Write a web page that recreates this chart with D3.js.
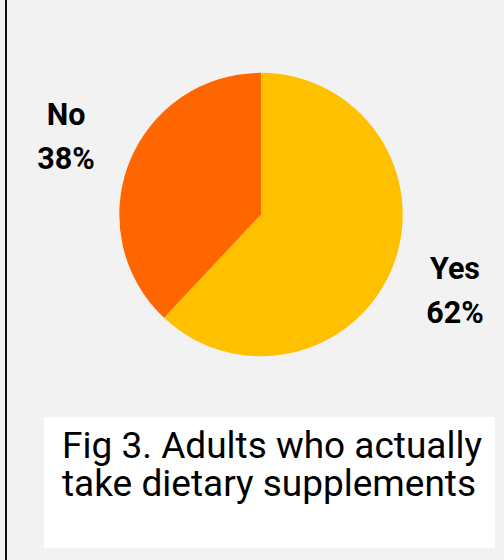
<!DOCTYPE html>
<html>
<head>
<meta charset="utf-8">
<script src="https://cdn.jsdelivr.net/npm/d3@7"></script>
<style>
  html, body { margin: 0; padding: 0; background: #f2f2f2; }
  svg { display: block; font-family: Roboto, "Noto Sans", sans-serif; }
</style>
</head>
<body>
<svg id="chart"></svg>
<script>
const categories = ["Yes", "No"];
const values = [62, 38];
const colors = ["#ffc000", "#ff6600"];
const captionLines = ["Fig 3. Adults who actually", "take dietary supplements"];

const width = 504, height = 560;
const cx = 261, cy = 214.5, radius = 141.7;

const svg = d3.select("#chart")
    .attr("width", width)
    .attr("height", height);

svg.append("rect")
    .attr("width", width)
    .attr("height", height)
    .attr("fill", "#f2f2f2");

// left frame edge
svg.append("line")
    .attr("x1", 6).attr("x2", 6)
    .attr("y1", 0).attr("y2", height)
    .attr("stroke", "#111")
    .attr("stroke-width", 2);

const data = categories.map((c, i) => ({ name: c, value: values[i], color: colors[i] }));

const pie = d3.pie().sort(null).value(d => d.value);
const arc = d3.arc().innerRadius(0).outerRadius(radius);

const g = svg.append("g").attr("transform", `translate(${cx},${cy})`);

g.selectAll("path")
    .data(pie(data))
    .join("path")
    .attr("d", arc)
    .attr("fill", d => d.data.color);

// slice labels (placed outside the pie)
const labelPos = { "Yes": [455, 279], "No": [66, 125] };

data.forEach(d => {
    const [x, y] = labelPos[d.name];
    const t = svg.append("text")
        .attr("text-anchor", "middle")
        .attr("font-weight", "bold")
        .attr("font-size", 30.5)
        .attr("fill", "#000");
    t.append("tspan").attr("x", x).attr("y", y).text(d.name);
    t.append("tspan").attr("x", x).attr("y", y + 44).text(d.value + "%");
});

// caption box
svg.append("rect")
    .attr("x", 44)
    .attr("y", 417)
    .attr("width", 451)
    .attr("height", 131)
    .attr("fill", "#fff");

const cap = svg.append("text")
    .attr("font-size", 37)
    .attr("fill", "#000");

captionLines.forEach((line, i) => {
    cap.append("tspan")
        .attr("x", 62)
        .attr("y", 457.5 + i * 38.5)
        .text(line);
});
</script>
</body>
</html>
